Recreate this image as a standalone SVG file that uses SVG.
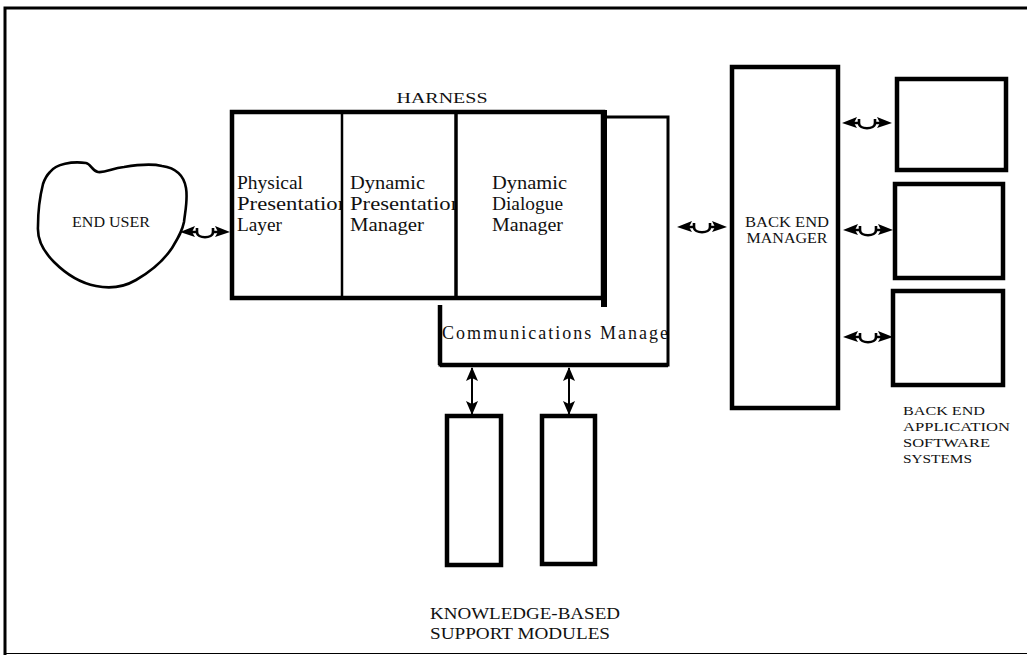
<svg xmlns="http://www.w3.org/2000/svg" width="1027" height="655" viewBox="0 0 1027 655">
<style>
  .ln { fill: none; stroke: #000; stroke-linejoin: miter; }
  .box { fill: #fff; stroke: #000; stroke-width: 4.5; }
  .t { font-family: "Liberation Serif", "DejaVu Serif", serif; fill: #111; }
  .lc { font-size: 18px; }
  .cap { font-size: 14.5px; }
  .ah { fill: #000; }
</style>
<defs>
  <g id="harrow">
    <path class="ah" d="M0,0 L15,-6 L12,0 L15,5 Z"/>
    <path class="ah" d="M50,0 L35,-6 L38,0 L35,5 Z"/>
    <path class="ln" stroke-width="2.6" d="M11,0 H17 V-4 M17,0 C17,7 33,7 33,0 V-4 M33,0 H39"/>
  </g>
  <marker id="vh" viewBox="0 0 14 12" refX="13" refY="6" markerWidth="14" markerHeight="12" markerUnits="userSpaceOnUse" orient="auto-start-reverse">
    <path d="M0,0 L14,6 L0,12 L3,6 Z" fill="#000"/>
  </marker>
  <clipPath id="c1"><rect x="232" y="112" width="110" height="186"/></clipPath>
  <clipPath id="c2"><rect x="342" y="112" width="114" height="186"/></clipPath>
  <clipPath id="c3"><rect x="436" y="300" width="231" height="66"/></clipPath>
</defs>

<g id="frame">
  <path class="ln" stroke-width="3" d="M5,655 V8 H1027"/>
  <path class="ln" stroke="#777" stroke-width="1" d="M5,653.5 H1027"/>
</g>

<g id="end-user">
  <path class="ln" stroke-width="2.6" d="M50,172 C56,164 72,161 86,163 C91,164 92,171 98,172 C106,173 112,168 124,167 C136,165 150,163 162,166 C176,168 184,176 186,188 C188,200 185,212 184,222 C182,232 178,238 172,248 C164,260 150,272 136,280 C124,287 110,289 96,286 C80,283 66,274 54,262 C44,252 37,240 38,226 C38,212 40,196 43,184 C45,178 47,175 50,172 Z"/>
  <text class="t cap" x="72" y="227" textLength="78" lengthAdjust="spacingAndGlyphs">END USER</text>
</g>

<g id="communications-manager">
  <path class="ln" stroke-width="3" d="M603,117 H668 V365 H440 V305"/>
  <path class="ln" stroke-width="4.5" d="M440,365 H668 M440,305 V365"/>
  <text class="t lc" x="442" y="339" textLength="234" lengthAdjust="spacing" clip-path="url(#c3)">Communications Manager</text>
</g>

<g id="harness">
  <text class="t" x="442" y="103" font-size="15.5" text-anchor="middle" textLength="91" lengthAdjust="spacingAndGlyphs">HARNESS</text>
  <rect class="box" x="232" y="112" width="371" height="186"/>
  <path class="ln" stroke-width="6" d="M604,110 V307"/>
  <g id="physical-presentation-layer" clip-path="url(#c1)">
    <text class="t lc" x="237" y="189" textLength="66" lengthAdjust="spacingAndGlyphs">Physical</text>
    <text class="t lc" x="237" y="210" textLength="112" lengthAdjust="spacingAndGlyphs">Presentation</text>
    <text class="t lc" x="237" y="231" textLength="45" lengthAdjust="spacingAndGlyphs">Layer</text>
  </g>
  <g id="dynamic-presentation-manager" clip-path="url(#c2)">
    <text class="t lc" x="350" y="189" textLength="75" lengthAdjust="spacingAndGlyphs">Dynamic</text>
    <text class="t lc" x="350" y="210" textLength="112" lengthAdjust="spacingAndGlyphs">Presentation</text>
    <text class="t lc" x="350" y="231" textLength="74" lengthAdjust="spacingAndGlyphs">Manager</text>
  </g>
  <g id="dynamic-dialogue-manager">
    <text class="t lc" x="492" y="189" textLength="75" lengthAdjust="spacingAndGlyphs">Dynamic</text>
    <text class="t lc" x="492" y="210" textLength="71" lengthAdjust="spacingAndGlyphs">Dialogue</text>
    <text class="t lc" x="492" y="231" textLength="71" lengthAdjust="spacingAndGlyphs">Manager</text>
  </g>
  <path class="ln" stroke-width="2.5" d="M342,112 V298"/>
  <path class="ln" stroke-width="3.5" d="M456,112 V298"/>
</g>

<g id="back-end-manager">
  <rect class="box" x="732" y="67" width="106" height="341" stroke-width="3.5"/>
  <text class="t cap" x="787" y="227" text-anchor="middle" textLength="84" lengthAdjust="spacingAndGlyphs">BACK END</text>
  <text class="t cap" x="787" y="243" text-anchor="middle" textLength="81" lengthAdjust="spacingAndGlyphs">MANAGER</text>
</g>

<g id="back-end-app-1"><rect class="box" x="897" y="79" width="109" height="91"/></g>
<g id="back-end-app-2"><rect class="box" x="895" y="184" width="108" height="94"/></g>
<g id="back-end-app-3"><rect class="box" x="893" y="291" width="110" height="94"/></g>
<g id="back-end-label">
  <text class="t" font-size="12.5" x="903" y="415" textLength="82" lengthAdjust="spacingAndGlyphs">BACK END</text>
  <text class="t" font-size="12.5" x="903" y="431" textLength="107" lengthAdjust="spacingAndGlyphs">APPLICATION</text>
  <text class="t" font-size="12.5" x="903" y="447" textLength="87" lengthAdjust="spacingAndGlyphs">SOFTWARE</text>
  <text class="t" font-size="12.5" x="903" y="463" textLength="69" lengthAdjust="spacingAndGlyphs">SYSTEMS</text>
</g>

<g id="kb-module-1"><rect class="box" x="447" y="416" width="54" height="149"/></g>
<g id="kb-module-2"><rect class="box" x="542" y="416" width="53" height="148"/></g>
<g id="kb-label">
  <text class="t" font-size="16" x="430" y="619" textLength="190" lengthAdjust="spacingAndGlyphs">KNOWLEDGE-BASED</text>
  <text class="t" font-size="16" x="430" y="639" textLength="180" lengthAdjust="spacingAndGlyphs">SUPPORT MODULES</text>
</g>

<g id="connectors">
  <use href="#harrow" transform="translate(180,232)"/>
  <use href="#harrow" transform="translate(677,227)"/>
  <use href="#harrow" transform="translate(842,123)"/>
  <use href="#harrow" transform="translate(843,230)"/>
  <use href="#harrow" transform="translate(843,337)"/>
  <path class="ln" stroke-width="2" d="M472,368 V414" marker-start="url(#vh)" marker-end="url(#vh)"/>
  <path class="ln" stroke-width="2" d="M569,368 V414" marker-start="url(#vh)" marker-end="url(#vh)"/>
</g>
</svg>
